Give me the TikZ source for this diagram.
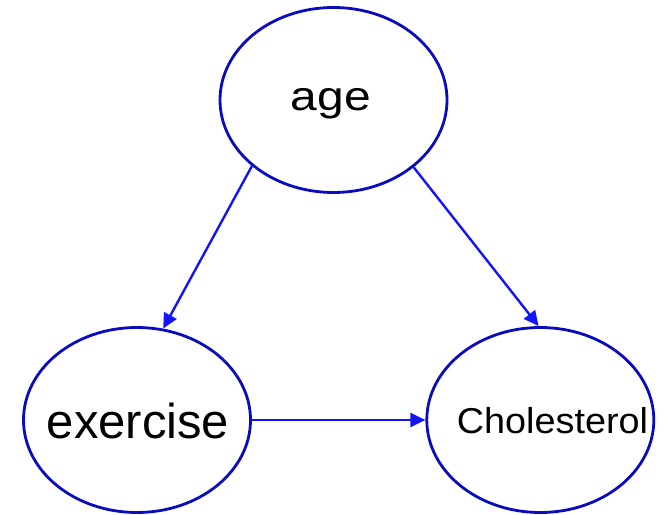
\documentclass[tikz,border=0pt]{standalone}
\usepackage{fontspec}
\setmainfont{Liberation Sans}
\newfontfamily\agefont[FakeStretch=1.17]{Liberation Sans}
\newfontfamily\cholfont[FakeStretch=1.05]{Liberation Sans}
\usetikzlibrary{arrows.meta,shapes.geometric}
\definecolor{ellblue}{RGB}{10,10,190}
\definecolor{arrblue}{RGB}{20,20,250}
\tikzset{
  var/.style={draw=ellblue, ellipse, line width=2.8pt, inner sep=0pt,
    minimum width=227pt, minimum height=185pt},
  txt/.style={inner sep=0pt, anchor=base},
  edge/.style={draw=arrblue, line width=2.4pt, -{Triangle[length=15pt,width=14pt]}}
}
\begin{document}
\begin{tikzpicture}[x=1pt, y=1pt]
\useasboundingbox (0,0) rectangle (666,514);
%% Nodes
\node[var](age) at (333.5, 414) {};
\node[var](exercise) at (137, 94) {};
\node[var](chol) at (540.3, 94) {};
%% Labels
\node[txt, font={\agefont\fontsize{41}{45}\selectfont}](agetxt) at (331, 403.3) {age};
\node[txt, font={\fontsize{49}{53}\selectfont}](exercisetxt) at (138, 75.7) {exercise};
\node[txt, font={\cholfont\fontsize{36}{40}\selectfont}](choltxt) at (552.5, 80.7) {Cholesterol};
%% Lines
\draw[edge] (age.219) to (exercise.74);
\draw[edge] (age.320) to (chol.91);
\draw[edge] (exercise.east) to (chol.west);
\end{tikzpicture}
\end{document}
